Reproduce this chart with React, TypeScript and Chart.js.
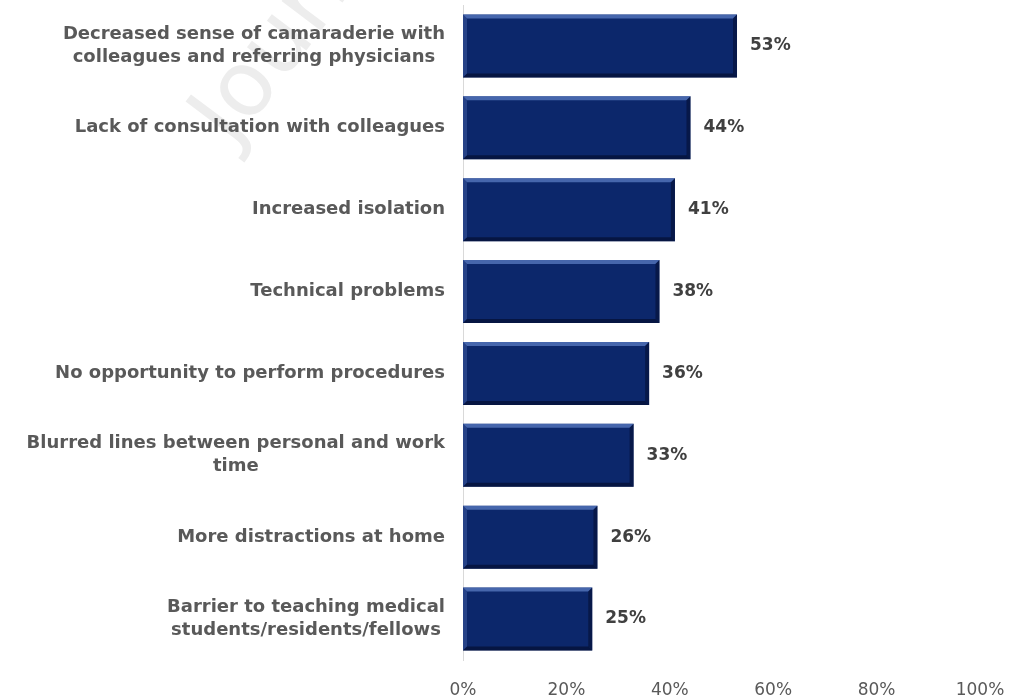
import React, { useEffect, useRef } from "react";
import { Chart, registerables } from "chart.js";

Chart.register(...registerables);

const categories: (string | string[])[] = [
  ["Decreased sense of camaraderie with", "colleagues and referring physicians"],
  "Lack of consultation with colleagues",
  "Increased isolation",
  "Technical problems",
  "No opportunity to perform procedures",
  ["Blurred lines between personal and work", "time"],
  "More distractions at home",
  ["Barrier to teaching medical", "students/residents/fellows"],
];
const values = [53, 44, 41, 38, 36, 33, 26, 25];
const tickValues = [0, 20, 40, 60, 80, 100];
const watermarkText = "Journal Pre-proof";

const BAR_COLOR = "#0c276b";
const LABEL_FONT = "'DejaVu Sans', sans-serif";

const watermarkPlugin = {
  id: "watermark",
  beforeDraw(chart: any) {
    const ctx = chart.ctx;
    ctx.save();
    ctx.translate(214, 134);
    ctx.rotate((-53 * Math.PI) / 180);
    ctx.font = `90px ${LABEL_FONT}`;
    ctx.fillStyle = "#ededed";
    ctx.textAlign = "left";
    ctx.textBaseline = "middle";
    ctx.fillText(watermarkText, 0, 0);
    ctx.restore();
  },
};

const categoryLabelPlugin = {
  id: "categoryLabels",
  afterDraw(chart: any) {
    const ctx = chart.ctx;
    const yScale = chart.scales.y;
    const rightEdge = chart.chartArea.left - 18;
    const lineH = 23;
    ctx.save();
    ctx.font = `bold 18px ${LABEL_FONT}`;
    ctx.fillStyle = "#595959";
    ctx.textAlign = "center";
    ctx.textBaseline = "middle";
    categories.forEach((lab, i) => {
      const lines = Array.isArray(lab) ? lab : [lab];
      const w = Math.max(...lines.map((l) => ctx.measureText(l).width));
      const cx = rightEdge - w / 2;
      const cy = yScale.getPixelForValue(i);
      lines.forEach((l, j) => {
        ctx.fillText(l, cx, cy + (j - (lines.length - 1) / 2) * lineH);
      });
    });
    ctx.restore();
  },
};

const bevelPlugin = {
  id: "bevel",
  afterDatasetsDraw(chart: any) {
    const ctx = chart.ctx;
    const meta = chart.getDatasetMeta(0);
    meta.data.forEach((bar: any) => {
      const p = bar.getProps(["x", "y", "base", "height"], true);
      const left = Math.min(p.base, p.x);
      const right = Math.max(p.base, p.x);
      const top = p.y - p.height / 2;
      const bottom = p.y + p.height / 2;
      const b = 4;
      ctx.save();
      ctx.beginPath();
      ctx.moveTo(left, top);
      ctx.lineTo(right, top);
      ctx.lineTo(right - b, top + b);
      ctx.lineTo(left + b, top + b);
      ctx.closePath();
      ctx.fillStyle = "rgba(95,130,200,0.7)";
      ctx.fill();
      ctx.beginPath();
      ctx.moveTo(left, top);
      ctx.lineTo(left + b, top + b);
      ctx.lineTo(left + b, bottom - b);
      ctx.lineTo(left, bottom);
      ctx.closePath();
      ctx.fillStyle = "rgba(70,100,170,0.45)";
      ctx.fill();
      ctx.beginPath();
      ctx.moveTo(left, bottom);
      ctx.lineTo(left + b, bottom - b);
      ctx.lineTo(right - b, bottom - b);
      ctx.lineTo(right, bottom);
      ctx.closePath();
      ctx.fillStyle = "rgba(3,12,45,0.65)";
      ctx.fill();
      ctx.beginPath();
      ctx.moveTo(right, top);
      ctx.lineTo(right, bottom);
      ctx.lineTo(right - b, bottom - b);
      ctx.lineTo(right - b, top + b);
      ctx.closePath();
      ctx.fillStyle = "rgba(3,12,45,0.55)";
      ctx.fill();
      ctx.restore();
    });
  },
};

const valueLabelPlugin = {
  id: "valueLabels",
  afterDatasetsDraw(chart: any) {
    const ctx = chart.ctx;
    const meta = chart.getDatasetMeta(0);
    ctx.save();
    ctx.font = `bold 17px ${LABEL_FONT}`;
    ctx.fillStyle = "#404040";
    ctx.textAlign = "left";
    ctx.textBaseline = "middle";
    meta.data.forEach((bar: any, i: number) => {
      const p = bar.getProps(["x", "y"], true);
      ctx.fillText(`${values[i]}%`, p.x + 13, p.y);
    });
    ctx.restore();
  },
};

export default function App() {
  const canvasRef = useRef<HTMLCanvasElement | null>(null);

  useEffect(() => {
    document.body.style.margin = "0";
    const canvas = canvasRef.current;
    if (!canvas) return;
    const chart = new Chart(canvas, {
      type: "bar",
      data: {
        labels: categories,
        datasets: [
          {
            data: values,
            backgroundColor: BAR_COLOR,
            borderWidth: 0,
            categoryPercentage: 1,
            barPercentage: 0.77,
          },
        ],
      },
      options: {
        indexAxis: "y",
        animation: false,
        responsive: false,
        maintainAspectRatio: false,
        layout: { padding: { top: 5, right: 29, left: 0, bottom: 0 } },
        plugins: {
          legend: { display: false },
          tooltip: { enabled: false },
        },
        scales: {
          x: {
            min: 0,
            max: 100,
            afterBuildTicks: (scale: any) => {
              scale.ticks = tickValues.map((v) => ({ value: v }));
            },
            afterFit: (scale: any) => {
              scale.height = 40;
              scale.paddingLeft = 0;
              scale.paddingRight = 0;
            },
            grid: { display: false },
            border: { display: false },
            ticks: {
              callback: (v: any) => `${v}%`,
              color: "#595959",
              font: { family: LABEL_FONT, size: 17 },
              padding: 12,
              maxRotation: 0,
            },
          },
          y: {
            afterFit: (scale: any) => {
              scale.width = 463;
              scale.paddingTop = 0;
              scale.paddingBottom = 0;
            },
            grid: { display: false, drawTicks: false },
            border: { display: true, color: "#d9d9d9", width: 1 },
            ticks: { display: false },
          },
        },
      },
      plugins: [watermarkPlugin, bevelPlugin, valueLabelPlugin, categoryLabelPlugin],
    });
    return () => chart.destroy();
  }, []);

  return (
    <div style={{ width: 1009, height: 700 }}>
      <canvas ref={canvasRef} width={1009} height={700} style={{ display: "block" }} />
    </div>
  );
}
